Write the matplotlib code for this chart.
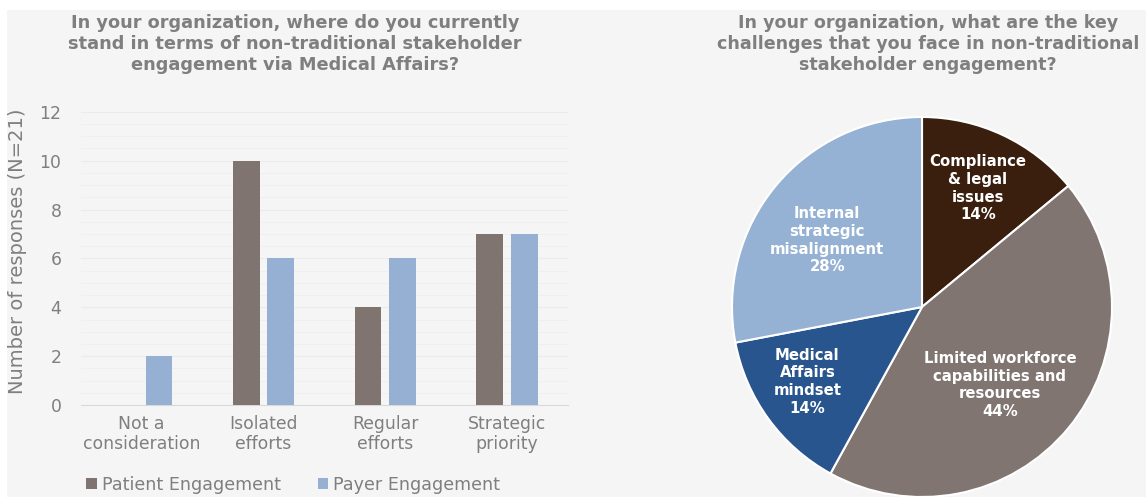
import numpy as np
import matplotlib.pyplot as plt
from matplotlib.patches import Rectangle

plt.rcParams['font.family'] = ['DejaVu Sans']

# bar chart data
stages = ["Not a\nconsideration", "Isolated\nefforts", "Regular\nefforts", "Strategic\npriority"]
patient = [0, 10, 4, 7]
payer = [2, 6, 6, 7]
y_ticks = [0, 2, 4, 6, 8, 10, 12]

# pie chart data
challenges = ["Compliance\n& legal\nissues", "Limited workforce\ncapabilities and\nresources",
              "Medical\nAffairs\nmindset", "Internal\nstrategic\nmisalignment"]
shares = [14, 44, 14, 28]

bg = '#f5f5f5'
grey_txt = '#7f7f7f'
c_patient = '#7f7470'
c_payer = '#95b0d3'
pie_colors = ['#3a1f0f', '#807571', '#29558f', '#95b1d4']

fig = plt.figure(figsize=(11.46, 4.97), dpi=100, facecolor='white')
fig.patches.append(Rectangle((7 / 1146, 0), 1, 1 - 10 / 497, transform=fig.transFigure,
                             facecolor=bg, edgecolor='none', zorder=-10))

# ---- bar chart ----
ax = fig.add_axes([0.0705, 0.185, 0.4251, 0.59])
ax.set_facecolor(bg)
x = np.arange(len(stages))
w = 0.22
off = 0.142
ax.bar(x - off, patient, w, color=c_patient, label='Patient Engagement', zorder=3)
ax.bar(x + off, payer, w, color=c_payer, label='Payer Engagement', zorder=3)
ax.set_xlim(-0.5, 3.5)
ax.set_ylim(0, 12)
ax.set_yticks(y_ticks)
ax.set_yticks(np.arange(0, 12.01, 0.5), minor=True)
ax.grid(axis='y', which='major', color='#ebebeb', lw=0.8, zorder=0)
ax.grid(axis='y', which='minor', color='#efefef', lw=0.7, zorder=0)
ax.set_xticks(x)
ax.set_xticklabels(stages, fontsize=12.4, color=grey_txt, linespacing=1.15)
ax.tick_params(axis='both', which='both', length=0, colors=grey_txt, labelsize=12.4)
ax.tick_params(axis='x', pad=7)
ax.tick_params(axis='y', pad=14)
for s in ['top', 'right', 'left']:
    ax.spines[s].set_visible(False)
ax.spines['bottom'].set_color('#d9d9d9')
fig.text(18 / 1146, 1 - 251 / 497, 'Number of responses (N=21)', rotation=90,
         ha='center', va='center', fontsize=14, color=grey_txt)
fig.text(295 / 1146, 1 - 44 / 497,
         'In your organization, where do you currently\nstand in terms of non-traditional stakeholder\nengagement via Medical Affairs?',
         ha='center', va='center', fontsize=12.8, fontweight='bold', color=grey_txt, linespacing=1.25)
fig.legend(loc='center left', bbox_to_anchor=(86 / 1146, 1 - 485 / 497), ncol=2, frameon=False,
           fontsize=12.6, labelcolor=grey_txt, handlelength=0.6, handleheight=0.6,
           handletextpad=0.3, columnspacing=2.1, borderaxespad=0, borderpad=0)

# ---- pie chart ----
pax = fig.add_axes([(922 - 190) / 1146, 1 - (307 + 190) / 497, 380 / 1146, 380 / 497])
wedges, _ = pax.pie(shares, colors=pie_colors, startangle=90, counterclock=False,
                    wedgeprops=dict(edgecolor='white', linewidth=1.5))
pax.set_xlim(-1, 1)
pax.set_ylim(-1, 1)
pax.set_aspect('equal')
# label placement: (radius, angle shift from wedge middle in degrees)
label_pos = [(0.69, 0.0), (0.58, -5.4), (0.72, -2.9), (0.61, 4.4)]
for wdg, lab, val, (d, shift) in zip(wedges, challenges, shares, label_pos):
    ang = np.deg2rad((wdg.theta1 + wdg.theta2) / 2 + shift)
    pax.text(d * np.cos(ang), d * np.sin(ang), f"{lab}\n{val}%", ha='center', va='center',
             color='white', fontsize=10.7, fontweight='bold', linespacing=1.22)
fig.text(928 / 1146, 1 - 44 / 497,
         'In your organization, what are the key\nchallenges that you face in non-traditional\nstakeholder engagement?',
         ha='center', va='center', fontsize=12.6, fontweight='bold', color=grey_txt, linespacing=1.25)

fig.savefig('out.png', dpi=100, facecolor=fig.get_facecolor())
